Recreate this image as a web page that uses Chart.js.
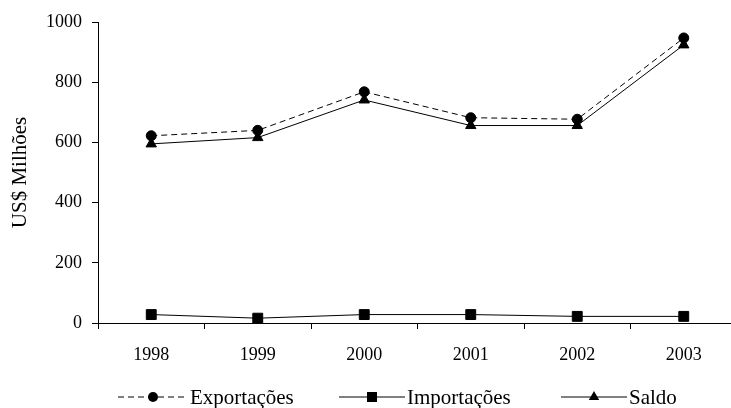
<!DOCTYPE html>
<html lang="pt">

<head>
    <meta charset="UTF-8">
    <meta name="viewport" content="width=device-width, initial-scale=1.0">
    <script src="https://cdn.jsdelivr.net/npm/chart.js@4.4.0/dist/chart.umd.min.js"></script>
    <title>US$ Milhões</title>
    <style>
        html, body { margin: 0; padding: 0; background: #fff; overflow: hidden; }
        .wrap { position: relative; width: 745px; height: 408px; }
        .legend { position: absolute; top: 385px; left: 0; height: 24px; font-family: "Liberation Serif", "Times New Roman", serif; font-size: 21px; color: #000; }
        .item { position: absolute; top: 0; white-space: nowrap; line-height: 24px; }
        .item svg { position: absolute; top: 0; }
        .item span { position: absolute; top: 0; }
    </style>
</head>

<body>
    <div class="wrap">
        <canvas id="myChart"></canvas>
        <div class="legend" id="legend"></div>
    </div>
    <script>
        // categorias e séries
        const labels = ['1998', '1999', '2000', '2001', '2002', '2003'];
        const exportacoes = [622, 640, 768, 682, 677, 947];
        const importacoes = [28, 16, 28, 28, 22, 22];
        const saldo = [595, 616, 741, 656, 656, 924];
        const yTicks = [0, 200, 400, 600, 800, 1000];

        const font = { family: '"Liberation Serif", "Times New Roman", serif', size: 18 };
        const titleFont = { family: '"Liberation Serif", "Times New Roman", serif', size: 21 };

        const ctx = document.getElementById('myChart').getContext('2d');
        const myChart = new Chart(ctx, {
            type: 'line',
            data: {
                labels: labels,
                datasets: [{
                    label: 'Exportações',
                    data: exportacoes,
                    borderColor: '#000',
                    backgroundColor: '#000',
                    borderWidth: 1,
                    borderDash: [6, 4],
                    pointStyle: 'circle',
                    pointRadius: 5,
                    order: 2
                }, {
                    label: 'Importações',
                    data: importacoes,
                    borderColor: '#000',
                    backgroundColor: '#000',
                    borderWidth: 1,
                    pointStyle: 'rect',
                    pointRadius: 7,
                    order: 1
                }, {
                    label: 'Saldo',
                    data: saldo,
                    borderColor: '#000',
                    backgroundColor: '#000',
                    borderWidth: 1,
                    pointStyle: 'triangle',
                    pointRadius: 6,
                    order: 0
                }]
            },
            options: {
                responsive: true,
                maintainAspectRatio: false,
                animation: false,
                layout: { padding: { top: 22, right: 5, bottom: 35, left: 0 } },
                plugins: { legend: { display: false }, tooltip: { enabled: false } },
                scales: {
                    x: {
                        offset: true,
                        grid: { offset: true, drawOnChartArea: false, drawTicks: true, tickLength: 6, color: '#000' },
                        border: { color: '#000', width: 1 },
                        ticks: { color: '#000', font: font, padding: 15, maxRotation: 0 },
                        afterFit: function (s) { s.height = 50; }
                    },
                    y: {
                        min: 0,
                        max: 1000,
                        afterBuildTicks: function (s) { s.ticks = yTicks.map(v => ({ value: v })); },
                        grid: { drawOnChartArea: false, drawTicks: true, tickLength: 6, color: '#000' },
                        border: { color: '#000', width: 1 },
                        ticks: { color: '#000', font: font, padding: 10, callback: function (v) { return String(v); } },
                        title: { display: true, text: 'US$ Milhões', color: '#000', font: titleFont, padding: { top: 8, bottom: 0 } },
                        afterFit: function (s) { s.width = 98; }
                    }
                }
            }
        });

        // legenda em HTML
        const legendItems = [
            { text: 'Exportações', left: 118, w: 70, dash: '6,4', marker: 'circle' },
            { text: 'Importações', left: 339, w: 66, dash: '', marker: 'rect' },
            { text: 'Saldo', left: 561, w: 66, dash: '', marker: 'triangle' }
        ];
        const legend = document.getElementById('legend');
        legendItems.forEach(function (it) {
            const cx = it.w / 2, cy = 12;
            let m = '';
            if (it.marker === 'circle') m = '<circle cx="' + cx + '" cy="' + cy + '" r="5" fill="#000"/>';
            if (it.marker === 'rect') m = '<rect x="' + (cx - 5) + '" y="' + (cy - 5) + '" width="10" height="10" fill="#000"/>';
            if (it.marker === 'triangle') m = '<polygon points="' + cx + ',' + (cy - 6) + ' ' + (cx - 5.2) + ',' + (cy + 3) + ' ' + (cx + 5.2) + ',' + (cy + 3) + '" fill="#000"/>';
            const d = document.createElement('div');
            d.className = 'item';
            d.style.left = it.left + 'px';
            d.innerHTML = '<svg width="' + it.w + '" height="24"><line x1="0" y1="' + cy + '" x2="' + it.w + '" y2="' + cy + '" stroke="#000" stroke-width="1"' + (it.dash ? ' stroke-dasharray="' + it.dash + '"' : '') + '/>' + m + '</svg>' +
                '<span style="left:' + (it.w + 2) + 'px">' + it.text + '</span>';
            legend.appendChild(d);
        });
    </script>
</body>

</html>
